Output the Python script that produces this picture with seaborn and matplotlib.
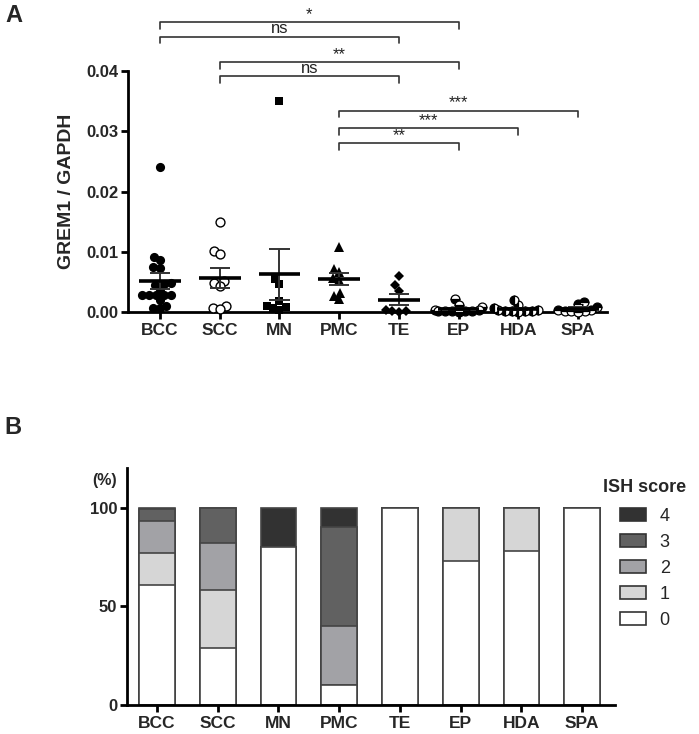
import warnings
warnings.filterwarnings('ignore')
import numpy as np
import pandas as pd
import matplotlib
matplotlib.use('Agg')
import matplotlib.pyplot as plt
import seaborn as sns
from matplotlib.patches import Patch

# ---------------- data ----------------
categories = ['BCC', 'SCC', 'MN', 'PMC', 'TE', 'EP', 'HDA', 'SPA']

bcc = [0.0240, 0.0091, 0.0087, 0.0074, 0.0073, 0.0048, 0.0046, 0.0045, 0.0038,
       0.0029, 0.0029, 0.0029, 0.0028, 0.0028, 0.0020, 0.0010, 0.0006, 0.0006]
scc = [0.0150, 0.0102, 0.0097, 0.0051, 0.0048, 0.0043, 0.0010, 0.0006, 0.0005]
mn = [0.0350, 0.0055, 0.0047, 0.0018, 0.0010, 0.0008, 0.0006, 0.0004]
pmc = [0.0108, 0.0072, 0.0066, 0.0057, 0.0053, 0.0032, 0.0027, 0.0021]
te = [0.0059, 0.0044, 0.0035, 0.0003, 0.0001, 0.0001, 0.0000]
ep = [0.0021, 0.0012, 0.0009, 0.0004, 0.0003, 0.0002, 0.0002, 0.0001, 0.0001, 0.0001, 0.0000]
hda = [0.0020, 0.0012, 0.0006, 0.0004, 0.0003, 0.0002, 0.0002, 0.0001, 0.0001, 0.0000]
spa = [0.0017, 0.0014, 0.0008, 0.0004, 0.0003, 0.0002, 0.0001, 0.0001, 0.0000]

sig_pairs = [('BCC', 'EP', '*'), ('BCC', 'TE', 'ns'), ('SCC', 'EP', '**'), ('SCC', 'TE', 'ns'),
             ('PMC', 'SPA', '***'), ('PMC', 'HDA', '***'), ('PMC', 'EP', '**')]

ish_labels = ['0', '1', '2', '3', '4']
score0 = [61, 29, 80, 10, 100, 73, 78, 100]
score1 = [16, 29, 0, 0, 0, 27, 22, 0]
score2 = [16, 24, 0, 30, 0, 0, 0, 0]
score3 = [6, 18, 0, 50, 0, 0, 0, 0]
score4 = [1, 0, 20, 10, 0, 0, 0, 0]

# ---------------- style ----------------
sns.set_theme(style='white')
plt.rcParams['font.family'] = ['Liberation Sans', 'DejaVu Sans']

W, H = 699, 734
fig = plt.figure(figsize=(W / 100, H / 100), dpi=100)
axA = fig.add_axes([128 / W, 1 - 312 / H, (607 - 128) / W, (312 - 71) / H])
axB = fig.add_axes([127 / W, 1 - 705 / H, (615 - 127) / W, (705 - 468) / H])

# ---------------- panel A ----------------
groups = dict(zip(categories, [bcc, scc, mn, pmc, te, ep, hda, spa]))
df = pd.DataFrame([(c, v) for c in categories for v in groups[c]], columns=['group', 'value'])

# marker, size(pt), facecolor, alt facecolor, fillstyle, edge width
styles = {
    'BCC': ('o', 6.6, 'black', 'black', 'full', 0.0),
    'SCC': ('o', 6.4, 'white', 'white', 'full', 1.0),
    'MN': ('s', 6.0, 'black', 'black', 'full', 0.0),
    'PMC': ('^', 6.8, 'black', 'black', 'full', 0.0),
    'TE': ('D', 5.6, 'black', 'black', 'full', 0.0),
    'EP': ('o', 6.4, 'black', 'white', 'bottom', 0.9),
    'HDA': ('o', 6.4, 'black', 'white', 'left', 0.9),
    'SPA': ('o', 6.4, 'black', 'white', 'top', 0.9),
}

# swarm layout (compact, GraphPad-like overlap), markers drawn afterwards
colls = {}
for c in categories:
    n_before = len(axA.collections)
    sns.swarmplot(data=df[df.group == c], x='group', y='value', order=categories,
                  ax=axA, size=4.6, color='black', linewidth=0, clip_on=False)
    new = axA.collections[n_before:]
    colls[c] = [col for col in new if len(col.get_offsets()) > 0]

axA.set_xlim(-0.536, 7.486)
axA.set_ylim(0, 0.04)
fig.canvas.draw()

for c in categories:
    mk, ms, fc, fca, fs, mew = styles[c]
    for col in colls[c]:
        offs = np.asarray(col.get_offsets())
        axA.plot(offs[:, 0], offs[:, 1], ls='none', marker=mk, ms=ms, fillstyle=fs,
                 markerfacecolor=fc, markerfacecoloralt=fca, markeredgecolor='black',
                 markeredgewidth=mew, clip_on=False, zorder=3)
for col in list(axA.collections):
    col.remove()

# mean +/- SEM
for i, c in enumerate(categories):
    vals = np.array(groups[c])
    m = vals.mean()
    sem = vals.std(ddof=1) / np.sqrt(len(vals))
    axA.vlines(i, m - sem, m + sem, color='#333333', lw=1.4, zorder=4)
    axA.hlines([m - sem, m + sem], i - 0.17, i + 0.17, color='#333333', lw=1.4, zorder=4)
    axA.hlines(m, i - 0.35, i + 0.35, color='black', lw=2.6, zorder=5, clip_on=False)

# significance brackets
pos = {c: i for i, c in enumerate(categories)}
bracket_y = [0.0481, 0.0457, 0.0415, 0.0391, 0.0334, 0.0305, 0.0280]
tick_h = 0.0011
for (a, b, txt), y in zip(sig_pairs, bracket_y):
    x1, x2 = pos[a], pos[b]
    axA.plot([x1, x1, x2, x2], [y - tick_h, y, y, y - tick_h], color='#333333', lw=1.2,
             clip_on=False, zorder=2)
    axA.text((x1 + x2) / 2, y + 0.00005, txt, ha='center', va='bottom', fontsize=12,
             color='#222222', clip_on=False)

axA.set_yticks([0, 0.01, 0.02, 0.03, 0.04])
axA.set_yticklabels(['0.00', '0.01', '0.02', '0.03', '0.04'])
axA.set_xlabel('')
axA.set_ylabel('GREM1 / GAPDH', fontsize=14, fontweight='bold', labelpad=8)

# ---------------- panel B ----------------
scores = [score0, score1, score2, score3, score4]
ish_colors = ['white', '#d6d6d6', '#a2a2a6', '#616161', '#323232']
cum = np.cumsum(np.array(scores), axis=0)
for k in range(4, -1, -1):
    sns.barplot(x=categories, y=cum[k], order=categories, color=ish_colors[k], saturation=1,
                width=0.59, edgecolor='#444444', linewidth=1.2, ax=axB, zorder=2)

axB.set_xlim(-0.494, 7.54)
axB.set_ylim(0, 120)
axB.set_yticks([0, 50, 100])
axB.set_yticklabels(['0', '50', '100'])
fig.text(105 / W, 1 - 481 / H, '(%)', ha='center', va='center', fontsize=11.5, fontweight='bold')

handles = [Patch(facecolor=ish_colors[k], edgecolor='#333333', linewidth=1.2, label=ish_labels[k])
           for k in range(4, -1, -1)]
fig.text(603 / W, 1 - 487 / H, 'ISH score', ha='left', va='center', fontsize=13, fontweight='bold')
fig.legend(handles=handles, loc='upper left', bbox_to_anchor=(620 / W, 1 - 508 / H),
           frameon=False, fontsize=13, handlelength=1.45, handleheight=0.75,
           labelspacing=0.5, handletextpad=0.75, borderpad=0, borderaxespad=0)

# ---------------- common axis styling ----------------
for ax in (axA, axB):
    sns.despine(ax=ax)
    for s in ('left', 'bottom'):
        ax.spines[s].set_linewidth(2)
        ax.spines[s].set_color('black')
    ax.tick_params(axis='both', direction='out', length=5, width=2, color='black',
                   labelsize=12, pad=2, left=True, bottom=True)
    ax.tick_params(axis='x', labelsize=12.5, pad=3)
    for lab in ax.get_xticklabels() + ax.get_yticklabels():
        lab.set_fontweight('bold')
    ax.set_xlabel('')
    ax.grid(False)
axB.set_ylabel('')

fig.text(5 / W, 1 - 16 / H, 'A', ha='left', va='center', fontsize=17, fontweight='bold')
fig.text(4 / W, 1 - 427 / H, 'B', ha='left', va='center', fontsize=17, fontweight='bold')

fig.savefig('out.png', dpi=100)
